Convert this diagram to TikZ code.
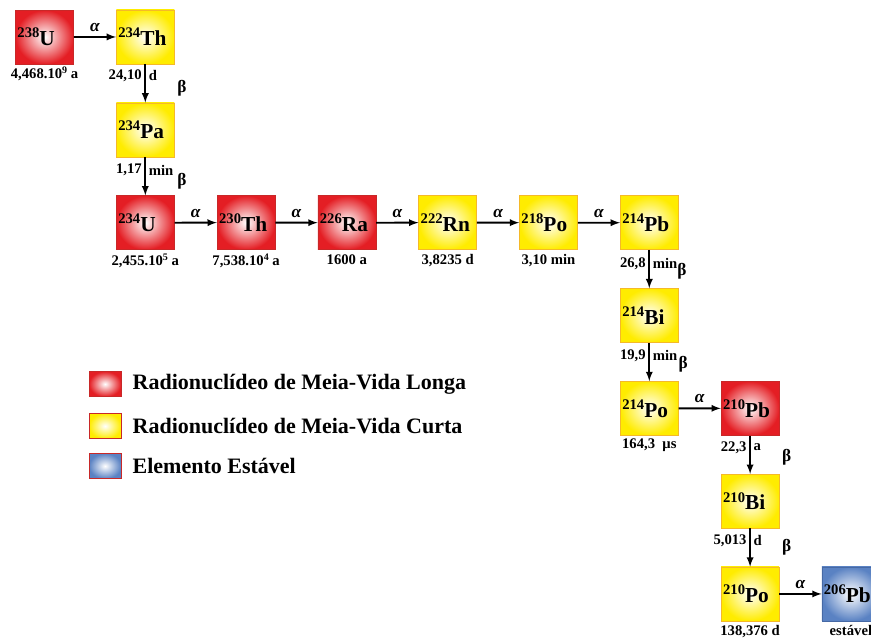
\documentclass[tikz,border=0pt]{standalone}
\usepackage{fontspec}
\setmainfont{Liberation Serif}
\usepackage{tikz}
\usetikzlibrary{matrix,arrows,positioning}

\definecolor{longred}{RGB}{228,30,36}
\definecolor{longedge}{RGB}{200,40,40}
\definecolor{shortyel}{RGB}{255,236,0}
\definecolor{shortedge}{RGB}{245,185,40}
\definecolor{stabblue}{RGB}{90,130,195}
\definecolor{stabedge}{RGB}{70,105,165}

\newcommand{\nuc}[2]{\raisebox{0.8ex}{\fontsize{11}{11}\selectfont #1}#2}
\newcommand{\expo}[1]{\raisebox{0.7ex}{\fontsize{7.5}{7.5}\selectfont #1}}
\newcommand{\boxfont}{\fontsize{16}{16}\selectfont\bfseries}

\tikzset{
  nuclong/.style={shading=radial, inner color=white, outer color=longred, draw=longedge},
  nucshort/.style={shading=radial, inner color=white, outer color=shortyel, draw=shortedge},
  nucstable/.style={shading=radial, inner color=white, outer color=stabblue, draw=stabedge},
  hlab/.style={font=\fontsize{11}{12}\selectfont\bfseries, inner sep=2pt},
  alab/.style={font=\fontsize{13}{13}\selectfont\bfseries\itshape},
  blab/.style={font=\fontsize{13}{13}\selectfont\bfseries},
  lgbox/.style={minimum width=24pt, minimum height=19pt, inner sep=0pt, draw=longedge},
  lgtext/.style={font=\fontsize{16.5}{16.5}\selectfont\bfseries}
}

\begin{document}
\begin{tikzpicture}[x=0.75pt, y=-0.75pt, >=latex]
  \useasboundingbox (0,0) rectangle (871,640);
  \matrix (m) [matrix of nodes, matrix anchor=m-1-1.center, column sep=31.7pt, row sep=28.7pt,
    nodes={minimum width=43.5pt, minimum height=40.5pt, inner sep=1.5pt, text width=40.5pt,
      align=left, font=\boxfont}] at (44.5,37)
  {
|[nuclong]| \nuc{238}{U} & |[nucshort]| \nuc{234}{Th} \\
 & |[nucshort]| \nuc{234}{Pa} \\
 & |[nuclong]| \nuc{234}{U} & |[nuclong]| \nuc{230}{Th} & |[nuclong]| \nuc{226}{Ra} & |[nucshort]| \nuc{222}{Rn} & |[nucshort]| \nuc{218}{Po} & |[nucshort]| \nuc{214}{Pb} \\
 & & & & & & |[nucshort]| \nuc{214}{Bi} \\
 & & & & & & |[nucshort]| \nuc{214}{Po} & |[nuclong]| \nuc{210}{Pb} \\
 & & & & & & & |[nucshort]| \nuc{210}{Bi} \\
 & & & & & & & |[nucshort]| \nuc{210}{Po} & |[nucstable]| \nuc{206}{Pb} \\
};
  % alpha decays
  \path[->, line width=1.4pt]
  (m-1-1) edge node [alab, above] (a1) {α} (m-1-2)
  (m-3-2) edge node [alab, above] (a2) {α} (m-3-3)
  (m-3-3) edge node [alab, above] (a3) {α} (m-3-4)
  (m-3-4) edge node [alab, above] (a4) {α} (m-3-5)
  (m-3-5) edge node [alab, above] (a5) {α} (m-3-6)
  (m-3-6) edge node [alab, above] (a6) {α} (m-3-7)
  (m-5-7) edge node [alab, above] (a7) {α} (m-5-8)
  (m-7-8) edge node [alab, above] (a8) {α} (m-7-9)
  ;
  % beta decays
  \path[->, line width=1.4pt]
  (m-1-2) edge node [hlab, left, pos=.3] (v1) {24,10} node [hlab, right, pos=.3] (u1) {d}
               node [blab, right=20pt, pos=.62] (b1) {β} (m-2-2)
  (m-2-2) edge node [hlab, left, pos=.34] (v2) {1,17} node [hlab, right, pos=.34] (u2) {min}
               node [blab, right=20pt, pos=.62] (b2) {β} (m-3-2)
  (m-3-7) edge node [hlab, left, pos=.36] (v3) {26,8} node [hlab, right, pos=.36] (u3) {min}
               node [blab, right=17pt, pos=.55] (b3) {β} (m-4-7)
  (m-4-7) edge node [hlab, left, pos=.34] (v4) {19,9} node [hlab, right, pos=.34] (u4) {min}
               node [blab, right=18pt, pos=.55] (b4) {β} (m-5-7)
  (m-5-8) edge node [hlab, left, pos=.31] (v5) {22,3} node [hlab, right, pos=.31] (u5) {a}
               node [blab, right=20pt, pos=.56] (b5) {β} (m-6-8)
  (m-6-8) edge node [hlab, left, pos=.32] (v6) {5,013} node [hlab, right, pos=.32] (u6) {d}
               node [blab, right=20pt, pos=.5] (b6) {β} (m-7-8)
  ;
  % half-lives
  \node[hlab, below=0pt of m-1-1] (t1) {4,468.10\expo{9} a};
  \node[hlab, below=1pt of m-3-2] (t2) {2,455.10\expo{5} a};
  \node[hlab, below=1pt of m-3-3] (t3) {7,538.10\expo{4} a};
  \node[hlab, below=1pt of m-3-4] (t4) {1600 a};
  \node[hlab, below=1pt of m-3-5] (t5) {3,8235 d};
  \node[hlab, below=1pt of m-3-6] (t6) {3,10 min};
  \node[hlab, below=0pt of m-5-7] (t7) {164,3~~μs};
  \node[hlab, below=1pt of m-7-8] (t8) {138,376 d};
  \node[hlab, below=1pt of m-7-9] (t9) {estável};
  % legend
  \node[lgbox, nuclong] (lg1) at (105,384) {};
  \node[lgtext, right=5pt of lg1] (lt1) {Radionuclídeo de Meia-Vida Longa};
  \node[lgbox, nucshort, draw=longedge] (lg2) at (105,426) {};
  \node[lgtext, right=5pt of lg2] (lt2) {Radionuclídeo de Meia-Vida Curta};
  \node[lgbox, nucstable, draw=longedge] (lg3) at (105,466) {};
  \node[lgtext, right=5pt of lg3] (lt3) {Elemento Estável};
\end{tikzpicture}
\end{document}
